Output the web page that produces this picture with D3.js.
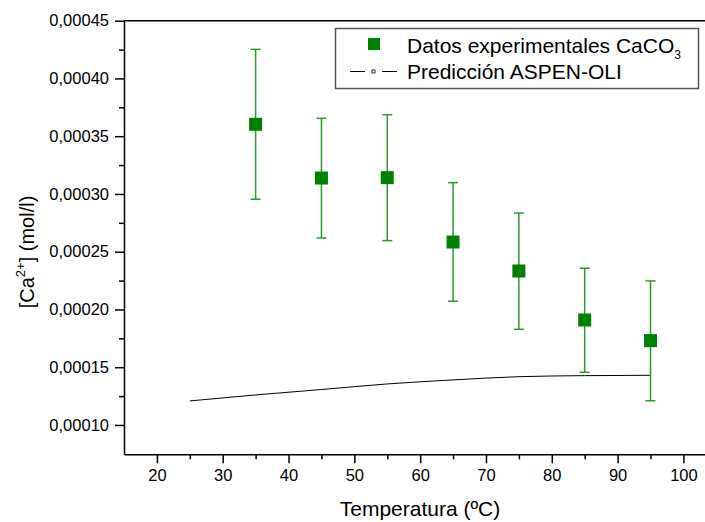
<!DOCTYPE html>
<html>
<head>
<meta charset="utf-8">
<script src="https://cdn.jsdelivr.net/npm/d3@7"></script>
<style>
body { margin: 0; background: #fff; }
svg { font-family: "Liberation Sans", Arial, sans-serif; }
</style>
</head>
<body>
<div id="chart"></div>
<script>
// experimental data
let temps = [35, 45, 55, 65, 75, 85, 95];
let caValues = [0.0003603, 0.0003138, 0.0003141, 0.0002584, 0.0002333, 0.0001909, 0.000173];
let caHigh = [0.0004252, 0.0003655, 0.0003686, 0.0003098, 0.0002835, 0.0002357, 0.0002247];
let caLow = [0.0002954, 0.0002619, 0.0002596, 0.0002071, 0.0001828, 0.0001456, 0.000121];

// ASPEN-OLI prediction
let predTemps = [25, 35, 45, 55, 65, 75, 85, 95];
let predValues = [0.0001208, 0.000126, 0.0001307, 0.0001355, 0.000139, 0.0001418, 0.0001427, 0.000143];

let xTicks = [20, 30, 40, 50, 60, 70, 80, 90, 100];
let xMinor = [25, 35, 45, 55, 65, 75, 85, 95];
let yTicks = [0.0001, 0.00015, 0.0002, 0.00025, 0.0003, 0.00035, 0.0004, 0.00045];
let yMinor = [0.000125, 0.000175, 0.000225, 0.000275, 0.000325, 0.000375, 0.000425];

let W = 705, H = 522;
let pLeft = 124, pRight = 705, pTop = 20.7, pBottom = 454.3;

let svg = d3.select("#chart").append("svg")
    .attr("width", W).attr("height", H);

let x = d3.scaleLinear().domain([15, 103.28]).range([pLeft, pRight]);
let y = d3.scaleLinear().domain([0.0000746, 0.00045]).range([pBottom, pTop]);

let fmt = function(d) { return d3.format(".5f")(d).replace(".", ","); };

// top frame line
svg.append("line")
    .attr("x1", pLeft).attr("x2", pRight)
    .attr("y1", pTop).attr("y2", pTop)
    .attr("stroke", "#000").attr("stroke-width", 1.5);

// x axis
svg.append("g")
    .attr("transform", "translate(0," + pBottom + ")")
    .call(d3.axisBottom(x).tickValues(xTicks).tickSize(9).tickPadding(6).tickSizeOuter(0));
svg.append("g")
    .attr("transform", "translate(0," + pBottom + ")")
    .call(d3.axisBottom(x).tickValues(xMinor).tickSize(5).tickFormat("").tickSizeOuter(0))
    .select(".domain").remove();

// y axis
svg.append("g")
    .attr("transform", "translate(" + pLeft + ",0)")
    .call(d3.axisLeft(y).tickValues(yTicks).tickFormat(fmt).tickSize(9).tickPadding(6).tickSizeOuter(0));
svg.append("g")
    .attr("transform", "translate(" + pLeft + ",0)")
    .call(d3.axisLeft(y).tickValues(yMinor).tickSize(5).tickFormat("").tickSizeOuter(0))
    .select(".domain").remove();

svg.selectAll(".domain").attr("stroke-width", 1.5);
svg.selectAll(".tick line").attr("stroke-width", 1.5);
svg.selectAll(".tick text").attr("font-size", 16.5).attr("fill", "#000")
    .attr("font-family", "Liberation Sans, Arial, sans-serif");

// axis titles
svg.append("text")
    .attr("x", 420).attr("y", 516)
    .attr("text-anchor", "middle")
    .attr("font-size", 21)
    .text("Temperatura (ºC)");

let yl = svg.append("text")
    .attr("transform", "translate(34,252) rotate(-90)")
    .attr("text-anchor", "middle")
    .attr("font-size", 20);
yl.append("tspan").text("[Ca");
yl.append("tspan").attr("dy", -9).attr("font-size", 13).text("2+");
yl.append("tspan").attr("dy", 9).text("] (mol/l)");

// prediction line
svg.append("path")
    .datum(predTemps.map(function(t, i) { return [t, predValues[i]]; }))
    .attr("fill", "none")
    .attr("stroke", "#000")
    .attr("stroke-width", 1)
    .attr("d", d3.line().curve(d3.curveMonotoneX)
        .x(function(d) { return x(d[0]); })
        .y(function(d) { return y(d[1]); }));

// error bars
let eb = svg.append("g").attr("stroke", "#2e9a2e").attr("stroke-width", 1.5);
temps.forEach(function(t, i) {
    eb.append("line")
        .attr("x1", x(t)).attr("x2", x(t))
        .attr("y1", y(caHigh[i])).attr("y2", y(caLow[i]));
    [caHigh[i], caLow[i]].forEach(function(v) {
        eb.append("line")
            .attr("x1", x(t) - 5).attr("x2", x(t) + 5)
            .attr("y1", y(v)).attr("y2", y(v));
    });
});

// squares
svg.selectAll(".pt")
    .data(temps)
    .enter().append("rect")
    .attr("class", "pt")
    .attr("x", function(d) { return x(d) - 6.5; })
    .attr("y", function(d, i) { return y(caValues[i]) - 6.5; })
    .attr("width", 13).attr("height", 13)
    .attr("fill", "#008000");

// legend
let lg = svg.append("g");
lg.append("rect")
    .attr("x", 335.5).attr("y", 28.5)
    .attr("width", 363).attr("height", 60)
    .attr("fill", "#fff")
    .attr("stroke", "#555").attr("stroke-width", 1.5);
lg.append("rect")
    .attr("x", 368).attr("y", 38).attr("width", 12).attr("height", 12)
    .attr("fill", "#008000");
let t1 = lg.append("text").attr("x", 407).attr("y", 52.5).attr("font-size", 21);
t1.append("tspan").text("Datos experimentales CaCO");
t1.append("tspan").attr("dy", 6).attr("font-size", 12).text("3");
lg.append("line").attr("x1", 350).attr("x2", 365).attr("y1", 71.5).attr("y2", 71.5)
    .attr("stroke", "#000");
lg.append("line").attr("x1", 382).attr("x2", 397).attr("y1", 71.5).attr("y2", 71.5)
    .attr("stroke", "#000");
lg.append("rect").attr("x", 372).attr("y", 70).attr("width", 3).attr("height", 3)
    .attr("fill", "#fff").attr("stroke", "#000").attr("stroke-width", 0.8);
lg.append("text").attr("x", 407).attr("y", 79).attr("font-size", 21)
    .text("Predicción ASPEN-OLI");
</script>
</body>
</html>
